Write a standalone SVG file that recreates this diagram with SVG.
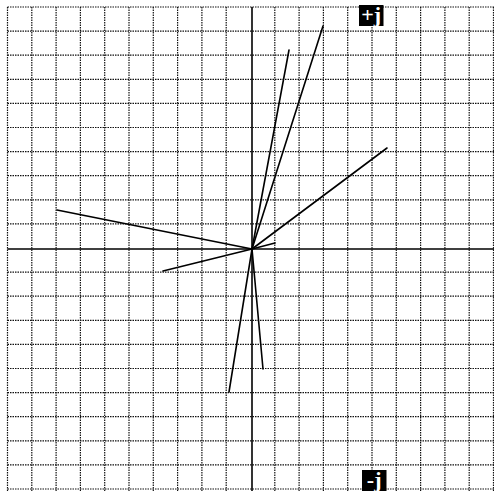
<svg xmlns="http://www.w3.org/2000/svg" width="494" height="491" viewBox="0 0 494 491">
  <style>
    .grid { stroke: #111; stroke-width: 1.2; stroke-dasharray: 1.5 1; fill: none; }
    .axis { stroke: #000; stroke-width: 1.6; fill: none; }
    .vec { stroke: #000; stroke-width: 1.6; stroke-linecap: round; fill: none; }
    .lblbox { fill: #000; }
    .lbl { fill: #fff; font-family: "Liberation Serif", "DejaVu Serif", serif; font-weight: bold; font-size: 22px; }
  </style>
  <rect width="494" height="491" fill="#fff"/>
  <g id="grid">
    <path class="grid" d="M7.5 7V491 M31.8 7V491 M56.1 7V491 M80.4 7V491 M104.7 7V491 M129 7V491 M153.3 7V491 M177.6 7V491 M201.9 7V491 M226.2 7V491 M274.8 7V491 M299.1 7V491 M323.4 7V491 M347.7 7V491 M372 7V491 M396.3 7V491 M420.6 7V491 M444.9 7V491 M469.2 7V491 M493.5 7V491"/>
    <path class="grid" d="M7.5 7H494 M7.5 31.1H494 M7.5 55.2H494 M7.5 79.3H494 M7.5 103.4H494 M7.5 127.5H494 M7.5 151.6H494 M7.5 175.7H494 M7.5 199.8H494 M7.5 223.9H494 M7.5 272.1H494 M7.5 296.2H494 M7.5 320.3H494 M7.5 344.4H494 M7.5 368.5H494 M7.5 392.6H494 M7.5 416.7H494 M7.5 440.8H494 M7.5 464.9H494 M7.5 489H494"/>
  </g>
  <g id="axes">
    <line class="axis" x1="252" y1="7" x2="252" y2="491"/>
    <line class="axis" x1="7.5" y1="249" x2="494" y2="249"/>
  </g>
  <g id="vectors">
    <line class="vec" x1="252" y1="249" x2="323" y2="26"/>
    <line class="vec" x1="252" y1="249" x2="289" y2="50"/>
    <line class="vec" x1="252" y1="249" x2="387" y2="148"/>
    <line class="vec" x1="252" y1="249" x2="57" y2="210"/>
    <line class="vec" x1="252" y1="249" x2="163" y2="271"/>
    <line class="vec" x1="252" y1="249" x2="229" y2="392"/>
    <line class="vec" x1="252" y1="249" x2="263" y2="369"/>
    <line class="vec" x1="252" y1="249" x2="275" y2="243"/>
  </g>
  <g id="label-plus-j">
    <rect class="lblbox" x="359" y="5" width="24.5" height="21"/>
    <text class="lbl" x="371.2" y="22" text-anchor="middle">+j</text>
  </g>
  <g id="label-minus-j">
    <rect class="lblbox" x="362" y="470" width="24.5" height="21"/>
    <text class="lbl" x="374.2" y="487" text-anchor="middle">-j</text>
  </g>
</svg>
